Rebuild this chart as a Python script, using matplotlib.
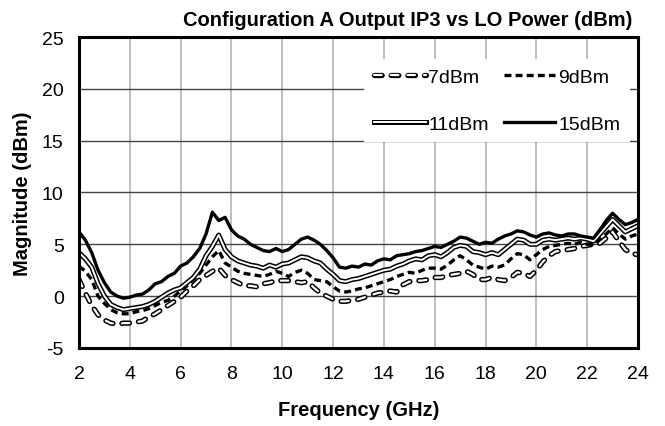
import numpy as np
import matplotlib
matplotlib.use('Agg')
import matplotlib.pyplot as plt
from matplotlib.lines import Line2D
from matplotlib.legend_handler import HandlerTuple

plt.rcParams['font.family'] = ['Liberation Sans', 'DejaVu Sans']
plt.rcParams['lines.scale_dashes'] = False
plt.rcParams['axes.unicode_minus'] = False

# frequency grid (GHz), 0.25 GHz step
freq = np.arange(2.0, 24.001, 0.25)

# output IP3 (dBm) for each LO power
ip3_7dbm = [1.6, 0.3, -0.9, -1.8, -2.3, -2.6, -2.7, -2.6, -2.6, -2.5, -2.4, -2.0,
            -1.7, -1.3, -0.9, -0.5, -0.1, 0.5, 1.0, 1.6, 2.0, 2.4, 2.7, 2.0,
            1.6, 1.3, 1.0, 1.0, 0.9, 1.2, 1.3, 1.5, 1.5, 1.5, 1.4, 1.3,
            1.4, 0.8, 0.3, 0.0, -0.3, -0.5, -0.5, -0.4, -0.3, -0.1, 0.1, 0.3,
            0.4, 0.5, 0.4, 1.1, 1.4, 1.5, 1.5, 1.6, 1.8, 1.8, 2.0, 2.1,
            2.2, 2.4, 2.1, 1.6, 1.6, 1.8, 1.6, 1.5, 1.8, 2.3, 2.2, 1.9,
            2.5, 3.3, 3.9, 4.3, 4.4, 4.5, 4.6, 4.8, 4.9, 5.0, 5.1, 5.6,
            6.2, 5.3, 4.5, 4.1, 4.0]
ip3_9dbm = [2.9, 2.4, 1.6, 0.0, -0.7, -1.3, -1.6, -1.7, -1.7, -1.5, -1.4, -1.2,
            -0.9, -0.6, -0.4, 0.0, 0.5, 1.0, 1.6, 2.2, 3.0, 3.8, 4.4, 3.2,
            2.8, 2.4, 2.2, 2.1, 2.0, 1.9, 2.1, 2.4, 2.2, 1.9, 2.3, 2.5,
            2.2, 1.6, 1.5, 1.4, 0.9, 0.5, 0.4, 0.5, 0.7, 0.8, 1.0, 1.2,
            1.4, 1.6, 1.9, 2.1, 2.3, 2.2, 2.5, 2.7, 2.7, 2.6, 3.0, 3.5,
            3.9, 3.5, 3.0, 2.8, 2.6, 2.9, 2.8, 3.0, 3.6, 4.1, 4.0, 3.5,
            4.0, 4.5, 4.8, 4.9, 5.0, 5.1, 5.0, 5.2, 5.0, 5.0, 5.5, 6.0,
            6.6, 6.0, 5.5, 5.8, 6.0]
ip3_11dbm = [4.2, 3.6, 2.8, 1.2, 0.0, -0.8, -1.1, -1.3, -1.2, -1.1, -1.0, -0.8,
             -0.5, -0.1, 0.3, 0.6, 0.8, 1.3, 1.8, 2.6, 3.9, 4.8, 5.9, 4.5,
             3.8, 3.4, 3.2, 3.0, 2.9, 2.7, 3.0, 2.8, 3.1, 3.2, 3.5, 3.8,
             3.7, 3.4, 3.2, 2.6, 2.1, 1.5, 1.4, 1.6, 1.7, 1.9, 2.1, 2.3,
             2.5, 2.6, 2.9, 3.1, 3.4, 3.6, 3.5, 3.9, 4.0, 3.8, 4.2, 4.7,
             4.9, 4.8, 4.3, 4.2, 4.0, 4.2, 4.0, 4.5, 5.0, 5.5, 5.4, 5.0,
             5.0, 5.4, 5.5, 5.4, 5.5, 5.6, 5.5, 5.6, 5.5, 5.3, 6.0, 6.7,
             7.4, 6.8, 6.2, 6.5, 6.8]
ip3_15dbm = [6.2, 5.4, 4.2, 2.5, 1.3, 0.4, 0.0, -0.2, -0.1, 0.1, 0.2, 0.6,
             1.2, 1.4, 1.9, 2.2, 2.9, 3.2, 3.8, 4.6, 6.0, 8.1, 7.3, 7.6,
             6.4, 5.8, 5.5, 5.0, 4.7, 4.4, 4.3, 4.6, 4.3, 4.5, 5.0, 5.5,
             5.7, 5.4, 5.0, 4.4, 3.7, 2.8, 2.7, 2.9, 2.8, 3.1, 3.0, 3.4,
             3.6, 3.5, 3.9, 4.0, 4.1, 4.3, 4.4, 4.6, 4.8, 4.7, 5.0, 5.3,
             5.7, 5.6, 5.3, 5.0, 5.2, 5.1, 5.5, 5.8, 6.0, 6.3, 6.2, 5.9,
             5.7, 6.0, 6.1, 5.9, 5.8, 6.0, 6.0, 5.8, 5.7, 5.6, 6.4, 7.3,
             8.0, 7.4, 6.9, 7.1, 7.4]

xticks = np.arange(2, 25, 2)
yticks = np.arange(-5, 26, 5)

fig = plt.figure(figsize=(6.65, 4.27), dpi=100)
ax = fig.add_axes([0.1188, 0.1827, 0.8406, 0.7283])

# hollow dashed (7dBm)
hd = dict(dashes=(5.5, 6.5), dash_capstyle='round', solid_capstyle='round')
ax.plot(freq, ip3_7dbm, color='black', lw=3.8, **hd)
ax.plot(freq, ip3_7dbm, color='white', lw=1.6, **hd)
# dashed (9dBm)
ax.plot(freq, ip3_9dbm, color='black', lw=2.4, dashes=(5, 3))
# double line (11dBm)
ax.plot(freq, ip3_11dbm, color='black', lw=3.6)
ax.plot(freq, ip3_11dbm, color='white', lw=1.4)
# solid (15dBm)
ax.plot(freq, ip3_15dbm, color='black', lw=2.4)

ax.set_xlim(2, 24)
ax.set_ylim(-5, 25)
ax.set_xticks(xticks)
ax.set_yticks(yticks)
ax.tick_params(length=0, labelsize=14)
ax.tick_params(axis='x', pad=12)
ax.tick_params(axis='y', pad=11)
for x in xticks:
    ax.axvline(x, color='#b4b4b4', lw=1.2, zorder=0)
for y in yticks:
    ax.axhline(y, color='#444444', lw=1.0, zorder=0)
for s in ax.spines.values():
    s.set_linewidth(2.2)

ax.set_xlabel('Frequency (GHz)', fontsize=14.5, fontweight='bold', labelpad=13)
ax.set_ylabel('Magnitude (dBm)', fontsize=14.5, fontweight='bold', labelpad=7)
fig.text(632 / 665, 1 - 20 / 427, 'Configuration A Output IP3 vs LO Power (dBm)',
         ha='right', va='center', fontsize=14.5, fontweight='bold')

h7 = (Line2D([], [], color='black', lw=3.8, **hd), Line2D([], [], color='white', lw=1.6, **hd))
h9 = Line2D([], [], color='black', lw=2.4, dashes=(5, 3))
h11 = (Line2D([], [], color='black', lw=3.6), Line2D([], [], color='white', lw=1.4))
h15 = Line2D([], [], color='black', lw=2.4)
leg = ax.legend([h7, h11, h9, h15], ['7dBm', '11dBm', '9dBm', '15dBm'],
                handler_map={tuple: HandlerTuple(ndivide=1)},
                ncol=2, loc='upper left', bbox_to_anchor=(0.493, 0.962),
                fontsize=14, handlelength=2.65, handletextpad=0.15,
                columnspacing=0.75, labelspacing=1.5, borderpad=0.5,
                frameon=True, fancybox=False, framealpha=1, edgecolor='none',
                facecolor='white')

fig.savefig('out.png', dpi=100)
